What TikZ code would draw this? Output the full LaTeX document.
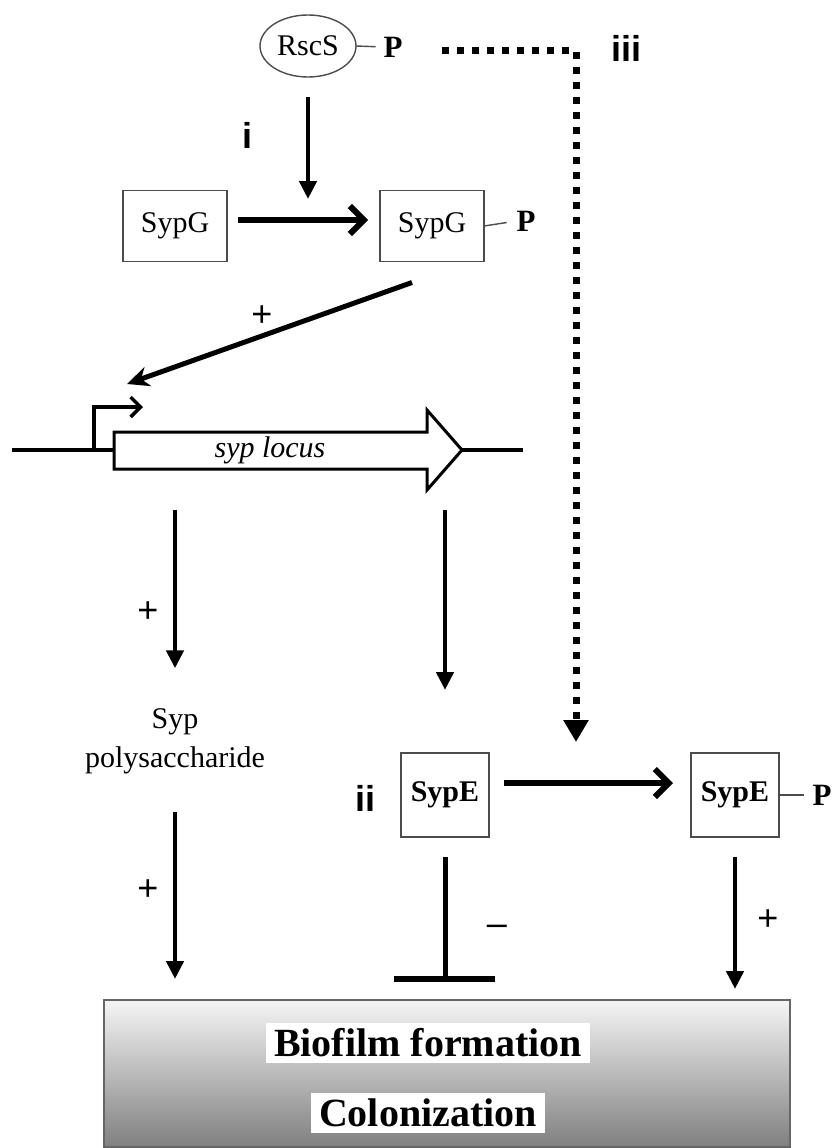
\documentclass[tikz,border=0pt]{standalone}
\usepackage{fontspec}
\setmainfont{Liberation Serif}
\setsansfont{Liberation Sans}
\usetikzlibrary{arrows.meta,shapes.geometric,calc}
\begin{document}
\begin{tikzpicture}[x=1pt,y=-1pt,
  every node/.style={inner sep=0pt,outer sep=0pt},
  protein/.style={draw=black!70,line width=1.4pt,minimum width=104pt,minimum height=71pt,
    font=\fontsize{30}{36}\selectfont},
  proteinE/.style={protein,minimum width=88pt,minimum height=84pt,
    font=\fontsize{30}{36}\selectfont\bfseries},
  sensor/.style={ellipse,draw=black!70,line width=1.4pt,minimum width=96pt,minimum height=62pt,
    font=\fontsize{30}{36}\selectfont},
  phos/.style={font=\fontsize{31}{36}\selectfont\bfseries},
  tick/.style={draw=black!70,line width=1.4pt},
  roman/.style={font=\fontsize{36}{40}\selectfont\sffamily\bfseries},
  sign/.style={font=\fontsize{36}{40}\selectfont\sffamily},
  act/.style={line width=4.5pt,-{Triangle[length=18pt,width=17pt]}},
  conv/.style={line width=6pt,-{Straight Barb[length=14pt,width=28pt]}},
  diag/.style={line width=5pt,-{Stealth[length=22pt,width=20pt]}},
  dots/.style={line width=7pt,dash pattern=on 7pt off 8pt,-{Triangle[length=22pt,width=24pt]}},
  dna/.style={line width=4pt},
  outcome/.style={fill=white,font=\fontsize{40}{44}\selectfont\bfseries,inner xsep=8pt,inner ysep=6pt}
]
\useasboundingbox (0,0) rectangle (838,1148);

% sensor kinase and its phosphate
\node[sensor] (rscs) at (308,46) {RscS};
\node[phos] (rscsP) at (393,47) {P};
\draw[tick,shorten >=8pt] (rscs.east) -- (rscsP.west);

% SypG activation
\coordinate (ihit) at (308,199);
\draw[act,shorten <=20pt] (rscs.south) -- (ihit);
\node[roman] (li) at (247,135) {i};
\node[protein] (g1) at (175,226) {SypG};
\node[protein] (g2) at (432,226) {SypG};
\node[phos] (gP) at (526,221) {P};
\draw[tick,shorten >=10pt] (g2.east) -- (gP.west);
\draw[conv] ($(g1.east)+(11,-6)$) -- ($(g2.west)+(-12,-6)$);

% promoter activation
\coordinate (promtip) at (127,384);
\draw[diag] ($(g2.south)+(-20,21)$) -- (promtip);
\node[sign] (plus1) at (262,316) {+};

% syp locus
\coordinate (dnaL) at (12,450);
\coordinate (dnaR) at (523,450);
\coordinate (bodyL) at (114,450);
\coordinate (tipR) at (462,450);
\draw[dna] (dnaL) -- (bodyL);
\draw[dna] (tipR) -- (dnaR);
\draw[line width=3pt,line join=miter]
  (114,432) -- (427,432) -- (427,410) -- (tipR) -- (427,490) -- (427,469) -- (114,469) -- cycle;
\node[font=\fontsize{30}{36}\selectfont\itshape] (locus) at (270,450) {syp locus};
\coordinate (prom) at (94,450);
\draw[line width=3.5pt,-{Straight Barb[length=10pt,width=20pt]}] (prom) |- (143,407);

% products of the locus
\coordinate (polyTop) at (175,510);
\coordinate (midTop) at (445,510);
\node[align=center,font=\fontsize{30}{39}\selectfont] (poly) at (175,741) {Syp\\polysaccharide};
\node[proteinE] (e1) at (445,795) {SypE};
\node[proteinE] (e2) at (735,795) {SypE};
\draw[act] (polyTop) -- ($(poly.north)+(0,-40)$);
\node[sign] (plus2) at (148,612) {+};
\draw[act] (midTop) -- ($(e1.north)+(0,-63)$);
\node[roman] (lii) at (365,798) {ii};
\node[phos] (eP) at (822,795) {P};
\draw[tick,shorten >=9pt] (e2.east) -- (eP.west);
\draw[conv] ($(e1.east)+(15,-12)$) -- ($(e2.west)+(-18,-12)$);

% RscS -> SypE phosphorelay
\coordinate (dotEnd) at (576,742);
\draw[dots] ($(rscsP.east)+(40,4)$) -| (dotEnd);
\node[roman] (liii) at (626,48) {iii};

% outcomes
\shade[top color=black!4,bottom color=black!50] (104,1000) rectangle (790,1147);
\draw[draw=black!60,line width=1.5pt] (104,1000) rectangle (790,1147);
\node[outcome] (bio) at (428,1043) {Biofilm formation};
\node[outcome] (col) at (428,1113) {Colonization};

\draw[act] ($(poly.south)+(0,38)$) -- (175,979);
\node[sign] (plus3) at (148,890) {+};
\coordinate (barC) at (445,979);
\draw[line width=5pt] ($(e1.south)+(0,20)$) -- (barC);
\draw[line width=6pt] ($(barC)+(-51,0)$) -- ($(barC)+(50,0)$);
\node[sign] (minus) at (497,930) {\textendash};
\draw[act] ($(e2.south)+(0,20)$) -- (735,989);
\node[sign] (plus4) at (768,920) {+};
\end{tikzpicture}
\end{document}
